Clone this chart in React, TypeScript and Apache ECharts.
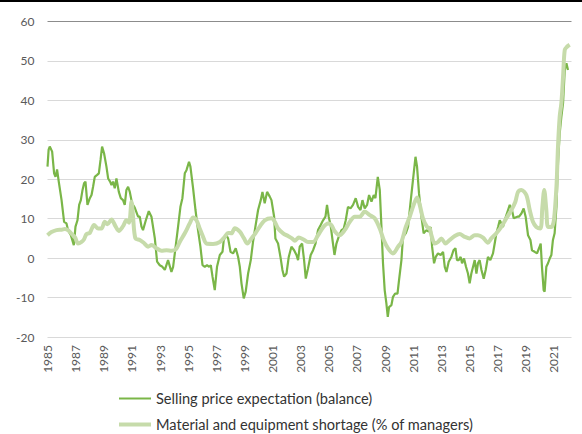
import React, { useEffect, useRef } from "react";
import * as echarts from "echarts";

const spYears = [
  1985.0, 1985.08, 1985.16, 1985.33, 1985.47, 1985.57, 1985.68, 1985.8, 1986.0, 1986.18, 1986.35, 1986.46, 1986.66, 1986.87, 1986.99,
  1987.13, 1987.25, 1987.37, 1987.49, 1987.6, 1987.7, 1987.84, 1988.01, 1988.13, 1988.24, 1988.36, 1988.53, 1988.65, 1988.77, 1988.88,
  1989.02, 1989.19, 1989.31, 1989.45, 1989.55, 1989.66, 1989.78, 1989.9, 1990.07, 1990.21, 1990.37, 1990.49, 1990.61, 1990.73, 1990.85,
  1991.01, 1991.2, 1991.44, 1991.56, 1991.68, 1991.79, 1991.99, 1992.2, 1992.39, 1992.63, 1992.79, 1992.98, 1993.17, 1993.34, 1993.57,
  1993.81, 1993.93, 1994.05, 1994.28, 1994.45, 1994.59, 1994.76, 1994.88, 1995.06, 1995.16, 1995.35, 1995.52, 1995.7, 1995.87, 1996.02,
  1996.18, 1996.34, 1996.49, 1996.61, 1996.73, 1996.89, 1997.05, 1997.25, 1997.44, 1997.53, 1997.72, 1997.84, 1998.01, 1998.19, 1998.38,
  1998.55, 1998.67, 1998.79, 1998.95, 1999.09, 1999.26, 1999.45, 1999.61, 1999.78, 1999.97, 2000.16, 2000.28, 2000.44, 2000.61, 2000.8,
  2000.92, 2001.11, 2001.2, 2001.39, 2001.56, 2001.7, 2001.82, 2001.99, 2002.15, 2002.34, 2002.53, 2002.7, 2002.81, 2002.93, 2003.1,
  2003.24, 2003.36, 2003.52, 2003.71, 2003.88, 2004.05, 2004.23, 2004.42, 2004.59, 2004.76, 2004.87, 2004.99, 2005.14, 2005.26, 2005.4,
  2005.54, 2005.7, 2005.9, 2006.06, 2006.2, 2006.36, 2006.54, 2006.72, 2006.91, 2007.08, 2007.25, 2007.39, 2007.55, 2007.72, 2007.86,
  2008.03, 2008.19, 2008.31, 2008.48, 2008.62, 2008.74, 2008.85, 2008.97, 2009.09, 2009.19, 2009.28, 2009.45, 2009.56, 2009.71, 2009.88,
  2009.99, 2010.16, 2010.27, 2010.47, 2010.63, 2010.8, 2010.98, 2011.16, 2011.27, 2011.41, 2011.58, 2011.74, 2011.94, 2012.1, 2012.24,
  2012.34, 2012.48, 2012.6, 2012.76, 2012.95, 2013.12, 2013.24, 2013.36, 2013.52, 2013.71, 2013.86, 2014.0, 2014.11, 2014.23, 2014.37,
  2014.47, 2014.61, 2014.75, 2014.89, 2015.01, 2015.13, 2015.25, 2015.37, 2015.49, 2015.6, 2015.72, 2015.85, 2016.01, 2016.15, 2016.31,
  2016.48, 2016.67, 2016.79, 2016.91, 2017.03, 2017.15, 2017.27, 2017.38, 2017.5, 2017.62, 2017.74, 2017.86, 2018.02, 2018.14, 2018.4,
  2018.51, 2018.69, 2018.85, 2018.99, 2019.16, 2019.33, 2019.44, 2019.63, 2019.8, 2019.94, 2020.06, 2020.15, 2020.27, 2020.34, 2020.46,
  2020.58, 2020.7, 2020.82, 2020.93, 2021.05, 2021.18, 2021.29, 2021.41, 2021.53, 2021.65, 2021.77, 2021.89, 2022.0,
];
const spValues = [
  23.2, 27.5, 28.3, 27.0, 21.5, 20.6, 22.5, 19.4, 14.7, 9.2, 8.8, 7.1, 5.8, 3.3, 8.0,
  9.6, 13.5, 14.7, 17.3, 19.0, 19.4, 13.5, 15.2, 16.0, 18.1, 20.6, 21.1, 21.5, 24.9, 28.3,
  26.6, 23.2, 20.2, 19.4, 18.5, 19.4, 17.7, 20.2, 16.8, 15.2, 14.7, 13.5, 17.3, 18.1, 16.8,
  13.9, 12.8, 10.5, 10.5, 8.0, 7.1, 9.6, 11.9, 10.5, 5.0, -0.9, -1.8, -2.2, -3.0, -0.5,
  -3.5, -2.2, 1.2, 7.9, 13.0, 15.2, 21.5, 22.3, 24.4, 23.2, 17.7, 12.2, 7.1, 2.9, -1.8,
  -2.2, -1.8, -2.2, -1.8, -4.7, -8.1, -2.2, 0.8, 1.6, 4.6, 5.8, 5.0, 1.6, 1.2, 2.5,
  0.3, -2.2, -6.4, -10.2, -8.5, -3.9, -0.5, 4.1, 8.0, 12.2, 14.7, 16.8, 13.9, 16.8, 15.6,
  14.7, 10.5, 5.0, 3.7, 0.3, -3.0, -4.7, -3.9, 0.3, 2.9, 2.0, 0.8, -0.5, 2.9, 3.7,
  -0.5, -5.2, -2.6, 0.8, 2.0, 3.7, 7.1, 8.4, 9.6, 10.5, 13.5, 10.5, 8.0, 4.6, 0.8,
  3.7, 5.4, 7.1, 7.5, 9.6, 13.0, 12.6, 13.5, 15.2, 13.0, 12.2, 14.7, 12.6, 13.5, 16.0,
  14.3, 16.0, 15.2, 20.6, 17.3, 7.9, -1.3, -8.1, -11.5, -14.9, -12.4, -11.9, -9.8, -9.0, -9.0,
  -5.6, -0.5, 5.4, 6.3, 7.9, 13.9, 19.8, 25.7, 23.2, 16.4, 10.5, 6.3, 7.1, 6.7, 7.9,
  2.9, -1.3, 0.3, 1.2, 0.8, 1.6, -2.2, -3.5, -0.9, 0.3, 2.0, 2.5, -0.5, -0.5, 0.3,
  -1.3, -0.1, -2.2, -3.9, -6.4, -3.9, -2.2, -0.5, -3.9, -1.3, -0.5, -3.0, -5.2, -3.0, 0.3,
  -0.5, 1.2, 3.7, 6.3, 7.9, 9.6, 8.8, 7.9, 9.6, 10.9, 12.2, 13.5, 12.2, 10.1, 10.5,
  10.5, 11.3, 12.6, 10.5, 5.8, 4.6, 2.0, 1.6, 1.2, 2.5, 3.7, -2.2, -8.1, -8.5, -2.2,
  -1.3, -0.1, 0.8, 4.6, 6.3, 13.0, 24.0, 31.6, 35.9, 39.3, 47.7, 49.4, 47.7,
];

const msYears = [
  1985.0, 1985.28, 1985.64, 1986.0, 1986.23, 1986.5, 1986.7, 1986.95, 1987.17, 1987.42, 1987.6, 1987.77, 1988.01, 1988.31, 1988.6,
  1988.84, 1989.07, 1989.26, 1989.55, 1989.83, 1990.07, 1990.37, 1990.61, 1990.8, 1990.97, 1991.08, 1991.25, 1991.56, 1991.84, 1992.15,
  1992.39, 1992.75, 1993.1, 1993.46, 1993.81, 1994.12, 1994.4, 1994.76, 1995.11, 1995.35, 1995.59, 1995.82, 1996.06, 1996.3, 1996.77,
  1997.25, 1997.6, 1997.84, 1998.08, 1998.31, 1998.67, 1998.97, 1999.21, 1999.5, 1999.78, 2000.09, 2000.44, 2000.92, 2001.16, 2001.39,
  2001.75, 2002.1, 2002.38, 2002.58, 2002.86, 2003.17, 2003.52, 2003.88, 2004.23, 2004.59, 2004.94, 2005.18, 2005.42, 2005.77, 2006.13,
  2006.49, 2006.84, 2007.2, 2007.55, 2007.91, 2008.26, 2008.62, 2008.9, 2009.21, 2009.56, 2009.92, 2010.16, 2010.47, 2010.75, 2011.03,
  2011.27, 2011.46, 2011.69, 2011.98, 2012.17, 2012.29, 2012.53, 2012.76, 2013.0, 2013.29, 2013.59, 2013.95, 2014.3, 2014.66, 2015.01,
  2015.37, 2015.6, 2015.96, 2016.31, 2016.55, 2016.91, 2017.27, 2017.62, 2017.98, 2018.26, 2018.45, 2018.69, 2019.04, 2019.28, 2019.51,
  2019.75, 2020.04, 2020.18, 2020.31, 2020.46, 2020.58, 2020.82, 2021.0, 2021.18, 2021.29, 2021.41, 2021.53, 2021.65, 2021.77, 2021.93,
  2022.12,
];
const msValues = [
  5.8, 6.6, 7.1, 7.2, 7.4, 7.0, 6.2, 5.3, 3.7, 4.1, 4.8, 6.1, 6.4, 8.4, 7.5,
  7.5, 9.2, 8.6, 9.8, 8.1, 6.9, 8.1, 9.6, 9.0, 14.3, 10.5, 5.0, 4.6, 3.9, 2.9,
  3.3, 2.5, 1.9, 2.0, 1.9, 2.2, 4.1, 6.3, 8.8, 10.3, 9.6, 7.5, 5.4, 3.7, 3.6,
  4.1, 5.4, 6.4, 6.3, 7.6, 6.7, 5.0, 3.7, 5.0, 6.3, 8.0, 9.6, 10.1, 9.2, 7.5,
  6.3, 5.6, 5.0, 4.4, 5.2, 4.8, 4.1, 4.1, 5.8, 7.8, 8.8, 8.4, 6.8, 5.8, 7.1,
  9.2, 10.5, 10.5, 11.8, 10.9, 10.1, 7.5, 4.6, 2.5, 1.2, 2.9, 4.1, 7.9, 10.5, 13.5,
  15.4, 13.5, 10.1, 7.9, 7.5, 5.8, 3.7, 4.1, 5.0, 3.7, 4.6, 5.6, 6.1, 5.4, 5.0,
  5.8, 5.8, 5.2, 3.9, 5.0, 6.3, 8.0, 10.1, 12.2, 14.3, 16.8, 17.3, 16.0, 12.2, 9.2,
  7.9, 7.5, 13.0, 17.3, 12.2, 7.9, 7.9, 9.6, 18.1, 28.3, 35.9, 39.3, 46.0, 52.8, 53.6,
  54.1,
];

const seriesNames = [
  "Selling price expectation (balance)",
  "Material and equipment shortage (% of managers)",
];

const FONT = "Lato, 'Liberation Sans', sans-serif";
const DARK = "#7AB648";
const LIGHT = "#C6DBAA";

export default function App() {
  const ref = useRef<HTMLDivElement>(null);
  useEffect(() => {
    document.body.style.margin = "0";
    if (!ref.current) return;
    const chart = echarts.init(ref.current, null, { renderer: "svg" });
    const spData = spYears.map((y, i) => [y, spValues[i]]);
    const msData = msYears.map((y, i) => [y, msValues[i]]);
    const gridColors = ["#D9D9D9", "#D9D9D9", "#D9D9D9", "#D9D9D9", "#D9D9D9", "#D9D9D9", "#D9D9D9", "#D9D9D9", "#8C8C8C"];
    chart.setOption({
      animation: false,
      backgroundColor: "#ffffff",
      textStyle: { fontFamily: FONT },
      graphic: [
        { type: "rect", left: 0, top: 0, shape: { x: 0, y: 0, width: 582, height: 2 }, style: { fill: "#000000" } },
      ],
      grid: { left: 47.5, right: 10.5, top: 21.5, bottom: 97 },
      xAxis: {
        type: "value",
        min: 1985,
        max: 2022.25,
        interval: 2,
        axisLine: { show: false },
        axisTick: { show: false },
        splitLine: { show: false },
        axisLabel: {
          rotate: 90,
          margin: 8,
          color: "#595959",
          fontSize: 12,
          fontFamily: FONT,
          showMaxLabel: false,
          formatter: (v: number) => (Number.isInteger(v) ? String(v) : ""),
        },
      },
      yAxis: {
        type: "value",
        min: -20,
        max: 60,
        interval: 10,
        axisLine: { show: false },
        axisTick: { show: false },
        axisLabel: { color: "#595959", fontSize: 12, margin: 13, fontFamily: FONT },
        splitLine: { show: true, lineStyle: { color: gridColors, width: 1 } },
      },
      legend: {
        orient: "vertical",
        left: 119,
        top: 391,
        padding: 0,
        itemWidth: 32,
        itemHeight: 14,
        itemGap: 11,
        textStyle: { color: "#333333", fontSize: 14.6, fontFamily: FONT },
        data: [
          { name: seriesNames[0], icon: "path://M0,0 L32,0 L32,2 L0,2 Z", itemStyle: { color: DARK } },
          { name: seriesNames[1], icon: "path://M0,0 L32,0 L32,4 L0,4 Z", itemStyle: { color: LIGHT } },
        ],
      },
      series: [
        {
          name: seriesNames[0],
          type: "line",
          data: spData,
          showSymbol: false,
          symbol: "none",
          lineStyle: { color: DARK, width: 2.2 },
          itemStyle: { color: DARK },
          z: 2,
        },
        {
          name: seriesNames[1],
          type: "line",
          data: msData,
          showSymbol: false,
          symbol: "none",
          smooth: 0.3,
          lineStyle: { color: LIGHT, width: 4 },
          itemStyle: { color: LIGHT },
          z: 3,
        },
      ],
    });
    return () => chart.dispose();
  }, []);
  return <div ref={ref} style={{ width: 582, height: 434 }} />;
}
